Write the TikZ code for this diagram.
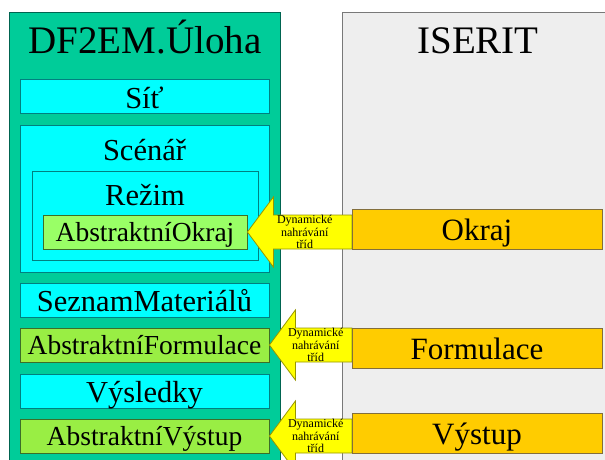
\documentclass[tikz,border=0pt]{standalone}
\usepackage{fontspec}
\setmainfont{Liberation Serif}
\usetikzlibrary{positioning,calc}

\definecolor{panelgreen}{RGB}{0,204,153}
\definecolor{panelline}{RGB}{0,100,80}
\definecolor{panelgray}{RGB}{238,238,238}
\definecolor{grayline}{RGB}{120,120,120}
\definecolor{clsfill}{RGB}{0,255,255}
\definecolor{clsline}{RGB}{0,128,128}
\definecolor{absfill}{RGB}{153,238,68}
\definecolor{absokfill}{RGB}{153,255,102}
\definecolor{absline}{RGB}{60,110,40}
\definecolor{implfill}{RGB}{255,204,0}
\definecolor{implline}{RGB}{130,110,60}
\definecolor{arrowfill}{RGB}{255,255,0}
\definecolor{arrowline}{RGB}{150,150,0}

\tikzset{
	bigtitle/.style={anchor=base, font=\fontsize{39}{39}\selectfont},
	grouplbl/.style={anchor=base, font=\fontsize{30.5}{30.5}\selectfont},
	trida/.style={line width=0.8pt, inner sep=0pt, text depth=0pt},
	cls/.style={trida, draw=clsline, fill=clsfill, minimum width=249pt, minimum height=34pt, text height=23pt, font=\fontsize{30.5}{30.5}\selectfont},
	abscls/.style={trida, draw=absline, fill=absfill, minimum width=249pt, minimum height=34pt, text height=19pt, font=\fontsize{27.5}{27.5}\selectfont},
	implcls/.style={trida, draw=implline, fill=implfill, minimum width=250pt, minimum height=40pt, text height=22pt, font=\fontsize{31}{31}\selectfont},
	loadarrow/.style={draw=arrowline, fill=arrowfill, line width=0.8pt, line join=miter},
	loadtext/.style={align=center, inner sep=0pt, font=\fontsize{12}{12.5}\selectfont},
}

\begin{document}
\begin{tikzpicture}[x=1pt, y=-1pt]
	\useasboundingbox (0,0) rectangle (605,460);
	\clip (0,0) rectangle (605,460);

	\draw[panelline, fill=panelgreen, line width=0.8pt] (9,12) rectangle (280,480);
	\draw[grayline, fill=panelgray, line width=0.8pt] (342,12) rectangle (620,480);

	\node[bigtitle] (uloha) at (145,54) {DF2EM.Úloha};
	\node[bigtitle] (iserit) at (478,54) {ISERIT};

	\node[cls] (sit) at (144.5,96.5) {Síť};
	\node[cls, minimum height=147pt] (scenar) at (144.5,198.5) {};
	\node[grouplbl] (scenarlbl) at (144.5,160) {Scénář};
	\node[cls, minimum width=226pt, minimum height=89pt] (rezim) at (145,215.5) {};
	\node[grouplbl] (rezimlbl) at (145,205) {Režim};
	\node[abscls, fill=absokfill, minimum width=204pt] (ao) at (145,232) {AbstraktníOkraj};
	\node[cls] (materialy) at (144.5,300) {SeznamMateriálů};
	\node[abscls] (af) at (144.5,345) {AbstraktníFormulace};
	\node[cls] (vysledky) at (144.5,391) {Výsledky};
	\node[abscls] (av) at (144.5,436) {AbstraktníVýstup};

	\foreach \a/\b in {ao/okraj, af/formulace, av/vystup}{
		\coordinate (\b) at (\a.east -| 352,0);
		\draw[loadarrow] (\a.east) -- ++(26,-35) -- ++(0,18) -- ($(\b)+(0,-17)$) -- ++(0,34)
			-- ($(\a.east)+(26,17)$) -- ++(0,18) -- cycle;
		\node[loadtext] (t\b) at ($(\a.east)!0.5!(\b)+(5,0)$) {Dynamické\\nahrávání\\tříd};
	}

	\node[implcls] (okrajimpl) at (477,229) {Okraj};
	\node[implcls] (formulaceimpl) at (477,348) {Formulace};
	\node[implcls] (vystupimpl) at (477,433) {Výstup};
\end{tikzpicture}
\end{document}
